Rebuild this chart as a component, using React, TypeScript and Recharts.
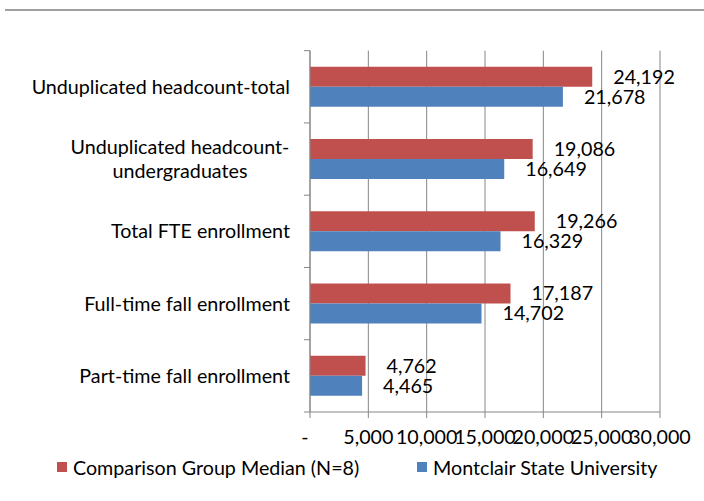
import { BarChart, Bar, XAxis, YAxis, CartesianGrid, LabelList } from "recharts"

const categories = [
  "Unduplicated headcount-total",
  "Unduplicated headcount-undergraduates",
  "Total FTE enrollment",
  "Full-time fall enrollment",
  "Part-time fall enrollment",
]
const comparisonMedian = [24192, 19086, 19266, 17187, 4762]
const montclair = [21678, 16649, 16329, 14702, 4465]
const xTicks = [0, 5000, 10000, 15000, 20000, 25000, 30000]

const data = categories.map((name, i) => ({
  name,
  comparison: comparisonMedian[i],
  montclair: montclair[i],
}))

const FONT = "Lato, 'Open Sans', sans-serif"
const FS = 19.7
const RED = "#C0504D"
const BLUE = "#4F81BD"
const GRID = "#868686"
const BAND = 72.3

const fmt = (v: number) => (v === 0 ? "-" : v.toLocaleString("en-US"))

const CategoryTick = (props: any) => {
  const { x, y, payload, index } = props
  const label: string = payload.value
  const multi = label === "Unduplicated headcount-undergraduates"
  const lines = multi ? ["Unduplicated headcount-", "undergraduates"] : [label]
  const start = -((lines.length - 1) * 24) / 2
  return (
    <g>
      <line x1={x - 6} x2={x} y1={y - BAND / 2} y2={y - BAND / 2} stroke={GRID} />
      {index === categories.length - 1 && (
        <line x1={x - 6} x2={x} y1={y + BAND / 2} y2={y + BAND / 2} stroke={GRID} />
      )}
      {lines.map((l, i) => (
        <text
          key={i}
          x={multi ? x - 130 : x - 20}
          y={y + start + i * 24}
          dy="0.35em"
          textAnchor={multi ? "middle" : "end"}
          fontSize={FS}
          fontFamily={FONT}
          fill="#000"
        >
          {l}
        </text>
      ))}
    </g>
  )
}

const ValueTick = (props: any) => {
  const { x, y, payload } = props
  const isZero = payload.value === 0
  return (
    <text
      x={isZero ? x - 5 : x}
      y={y}
      dy="0.71em"
      textAnchor="middle"
      fontSize={FS}
      fontFamily={FONT}
      fill="#000"
    >
      {fmt(payload.value)}
    </text>
  )
}

const legendItems = [
  { label: "Comparison Group Median (N=8)", color: RED, left: 57 },
  { label: "Montclair State University", color: BLUE, left: 417 },
]

export default function App() {
  return (
    <div style={{ position: "absolute", left: 0, top: 0, width: 704, height: 501, background: "#fff" }}>
      <div style={{ position: "absolute", left: 5, top: 9, width: 699, height: 2, background: "#a0a0a0" }} />
      <BarChart
        width={704}
        height={501}
        data={data}
        layout="vertical"
        margin={{ top: 50.7, right: 44, left: 0, bottom: 0 }}
        barCategoryGap={16}
        barGap={0}
      >
        <CartesianGrid horizontal={false} stroke={GRID} strokeWidth={1} />
        <XAxis
          type="number"
          domain={[0, 30000]}
          ticks={xTicks}
          interval={0}
          tick={<ValueTick />}
          tickLine={{ stroke: GRID }}
          axisLine={{ stroke: GRID }}
          tickSize={6}
          tickMargin={12}
          height={89}
        />
        <YAxis
          type="category"
          dataKey="name"
          width={310}
          tick={<CategoryTick />}
          tickLine={false}
          tickSize={0}
          tickMargin={0}
          axisLine={{ stroke: GRID }}
          interval={0}
        />
        <Bar dataKey="comparison" fill={RED} isAnimationActive={false}>
          <LabelList
            dataKey="comparison"
            position="right"
            offset={21}
            formatter={(v: any) => fmt(Number(v))}
            style={{ fontSize: FS, fontFamily: FONT, fill: "#000" }}
          />
        </Bar>
        <Bar dataKey="montclair" fill={BLUE} isAnimationActive={false}>
          <LabelList
            dataKey="montclair"
            position="right"
            offset={21}
            formatter={(v: any) => fmt(Number(v))}
            style={{ fontSize: FS, fontFamily: FONT, fill: "#000" }}
          />
        </Bar>
      </BarChart>
      {legendItems.map((item) => (
        <div
          key={item.label}
          style={{
            position: "absolute",
            top: 455,
            left: item.left,
            height: 24,
            display: "flex",
            alignItems: "center",
            fontFamily: FONT,
            fontSize: FS,
            color: "#000",
            whiteSpace: "nowrap",
          }}
        >
          <span style={{ width: 10, height: 10, background: item.color, display: "inline-block", marginRight: 6 }} />
          <span>{item.label}</span>
        </div>
      ))}
    </div>
  )
}
